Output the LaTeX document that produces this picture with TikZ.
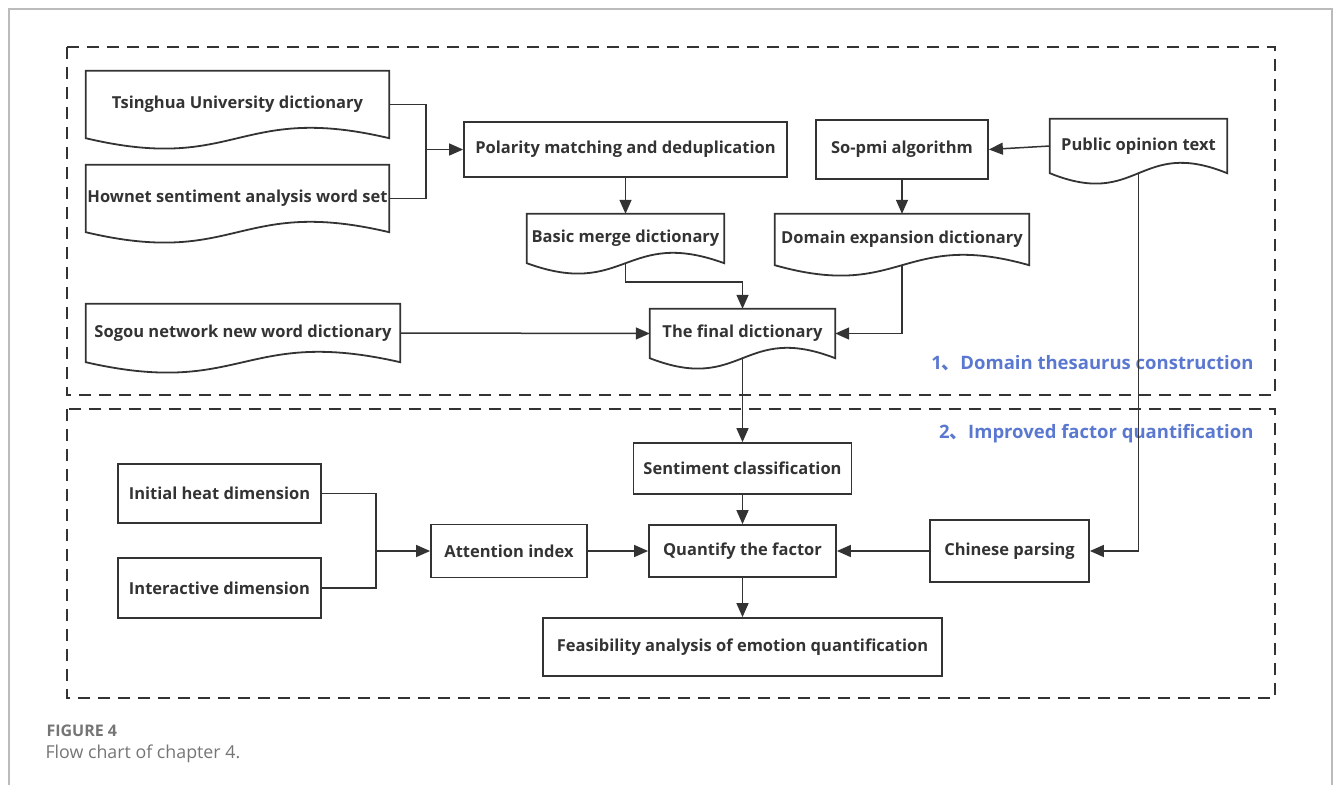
\documentclass[tikz,border=0pt]{standalone}
\usepackage{fontspec}
\setmainfont{Open Sans}
\newfontfamily\cjk{Noto Sans CJK SC}
\usetikzlibrary{arrows.meta,calc}

\definecolor{ink}{HTML}{333333}
\definecolor{tagblue}{HTML}{5B78D0}
\definecolor{framegray}{HTML}{BBBBBB}
\definecolor{capgray}{HTML}{757575}

\tikzset{
  box/.style={draw=ink, line width=1.8pt, inner sep=0pt, text=ink,
    font=\fontsize{16.5}{19}\selectfont\bfseries},
  docbox/.style={inner sep=0pt, text=ink,
    font=\fontsize{16.5}{19}\selectfont\bfseries},
  edge/.style={draw=ink, line width=1.8pt},
  line/.style={draw=ink, line width=1.5pt},
  arrow/.style={line, -{Triangle[length=14pt,width=12pt]}},
  region/.style={draw=ink, line width=1.8pt, dash pattern=on 12pt off 8pt},
  tag/.style={text=tagblue, anchor=east, font=\fontsize{18.5}{21}\selectfont\bfseries}
}

\newcommand{\docoutline}[1]{%
  \draw[edge] (#1.south west) -- (#1.north west) -- (#1.north east) -- (#1.south east)
    .. controls ($(#1.south)+(0,-36)$) and ($(#1.south)+(0,36)$) .. cycle;
}

\begin{document}
\begin{tikzpicture}[x=1pt,y=-1pt]
\useasboundingbox (0,0) rectangle (1335,785);
\draw[framegray, line width=1.2pt] (9,785) -- (9,9) -- (1332,9) -- (1332,785);

\draw[region] (67,47) rectangle (1275,395);
\draw[region] (67,409) rectangle (1275,698);

\node[docbox, minimum width=303pt, minimum height=67pt] (tsing) at (237.5,104.5) {Tsinghua University dictionary};
\node[docbox, minimum width=303pt, minimum height=67pt] (hownet) at (237.5,198.5) {Hownet sentiment analysis word set};
\node[box, minimum width=323pt, minimum height=55pt] (polar) at (625.5,149.5) {Polarity matching and deduplication};
\node[docbox, minimum width=197pt, minimum height=49pt] (basic) at (625.5,238.5) {Basic merge dictionary};
\node[box, minimum width=172pt, minimum height=59pt] (sopmi) at (902,149.5) {So-pmi algorithm};
\node[docbox, minimum width=177pt, minimum height=54pt] (public) at (1138.5,146) {Public opinion text};
\node[docbox, minimum width=254pt, minimum height=51pt] (domain) at (902,239.5) {Domain expansion dictionary};
\node[docbox, minimum width=314pt, minimum height=58pt] (sogou) at (243,333) {Sogou network new word dictionary};
\node[docbox, minimum width=185pt, minimum height=49pt] (final) at (742.5,333.5) {The final dictionary};

\foreach \d in {tsing,hownet,basic,public,domain,sogou,final} {\docoutline{\d}}

\node[box, minimum width=218pt, minimum height=51pt] (senti) at (742.5,468.5) {Sentiment classification};
\node[box, minimum width=187pt, minimum height=52pt] (quant) at (742.5,551) {Quantify the factor};
\node[box, minimum width=159pt, minimum height=62pt] (parse) at (1009.5,551) {Chinese parsing};
\node[box, minimum width=156pt, minimum height=53pt] (atten) at (509,551) {Attention index};
\node[box, minimum width=203pt, minimum height=59pt] (heat) at (219.5,493.5) {Initial heat dimension};
\node[box, minimum width=203pt, minimum height=60pt] (inter) at (219.5,588) {Interactive dimension};
\node[box, minimum width=399pt, minimum height=58pt] (feas) at (742.5,647) {Feasibility analysis of emotion quantification};

\node[tag] (tagA) at (1257,363) {1{\cjk 、}Domain thesaurus construction};
\node[tag] (tagB) at (1257,434) {2{\cjk 、}Improved factor quantification};

\coordinate (joinA) at (426,149.5);
\coordinate (joinB) at (376,551);

\draw[line] (tsing.east) -| (joinA) |- (hownet.east);
\draw[arrow] (joinA) -- (polar.west);
\draw[arrow] (polar.south) -- (basic.north);
\draw[arrow] (basic.south) -- ++(0,19) -| (final.north);
\draw[arrow] (public.west) -- (sopmi.east);
\draw[arrow] (sopmi.south) -- (domain.north);
\draw[arrow] (domain.south) |- (final.east);
\draw[arrow] (sogou.east) -- (final.west);
\draw[arrow] (final.south) -- (senti.north);
\draw[arrow] (public.south) |- (parse.east);
\draw[arrow] (senti.south) -- (quant.north);
\draw[arrow] (parse.west) -- (quant.east);
\draw[line] (heat.east) -| (joinB) |- (inter.east);
\draw[arrow] (joinB) -- (atten.west);
\draw[arrow] (atten.east) -- (quant.west);
\draw[arrow] (quant.south) -- (feas.north);

\node[anchor=west, text=capgray, font=\fontsize{16}{18}\selectfont\bfseries] (fig) at (43,731) {FIGURE 4};
\node[anchor=west, text=capgray, font=\fontsize{17.8}{20}\selectfont] (cap) at (42,754) {Flow chart of chapter 4.};
\end{tikzpicture}
\end{document}
